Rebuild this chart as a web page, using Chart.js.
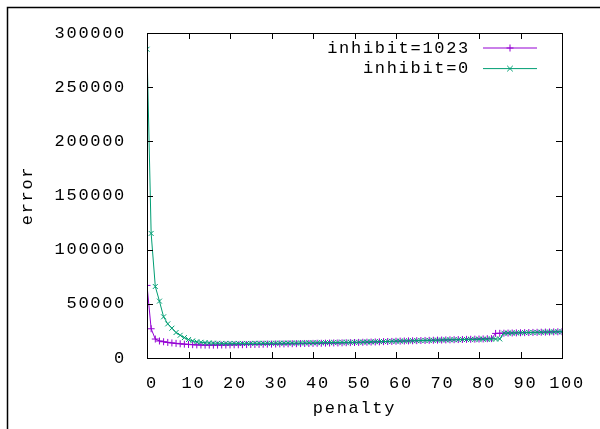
<!DOCTYPE html>
<html>
<head>
<meta charset="utf-8">
<script src="https://cdn.jsdelivr.net/npm/chart.js@4"></script>
<style>
  html, body { margin: 0; padding: 0; background: #fff; }
  canvas { display: block; }
</style>
</head>
<body>
<canvas id="err-chart" width="600" height="429"></canvas>
<script>
// penalty values on the x axis
var penalty = [0, 1, 2, 3, 4, 5, 6, 7, 8, 9, 10, 11, 12, 13, 14, 15, 16, 17, 18, 19,
  20, 21, 22, 23, 24, 25, 26, 27, 28, 29, 30, 31, 32, 33, 34, 35, 36, 37, 38, 39,
  40, 41, 42, 43, 44, 45, 46, 47, 48, 49, 50, 51, 52, 53, 54, 55, 56, 57, 58, 59,
  60, 61, 62, 63, 64, 65, 66, 67, 68, 69, 70, 71, 72, 73, 74, 75, 76, 77, 78, 79,
  80, 81, 82, 83, 84, 85, 86, 87, 88, 89, 90, 91, 92, 93, 94, 95, 96, 97, 98, 99, 100];

// error, inhibit=1023
var errInhibit1023 = [67000, 27000, 17500, 15700, 15000, 14400, 13900, 13500, 13100, 12800,
  12500, 12300, 12100, 12000, 11900, 11900, 11900, 11900, 12000, 12000,
  12100, 12200, 12200, 12300, 12400, 12500, 12500, 12600, 12700, 12800,
  12800, 12900, 13000, 13000, 13100, 13200, 13200, 13300, 13400, 13400,
  13500, 13600, 13600, 13700, 13800, 13900, 13900, 14000, 14100, 14200,
  14300, 14400, 14500, 14600, 14700, 14800, 14900, 15100, 15200, 15300,
  15500, 15600, 15700, 15800, 15900, 16000, 16100, 16200, 16300, 16400,
  16500, 16600, 16700, 16800, 16900, 17000, 17100, 17200, 17300, 17400,
  17500, 17600, 17800, 17900, 22700, 22800, 22900, 23000, 23100, 23200,
  23300, 23400, 23500, 23600, 23700, 23800, 23900, 24000, 24100, 24200, 24300];

// error, inhibit=0
var errInhibit0 = [285000, 115000, 66000, 52500, 38000, 31500, 27500, 23500, 21000, 18800,
  17000, 15800, 15000, 14500, 14100, 13900, 13700, 13600, 13500, 13500,
  13500, 13500, 13500, 13500, 13500, 13500, 13600, 13600, 13600, 13600,
  13600, 13700, 13700, 13700, 13800, 13800, 13800, 13900, 13900, 14000,
  14000, 14100, 14100, 14200, 14200, 14300, 14300, 14400, 14400, 14500,
  14500, 14600, 14700, 14800, 14900, 15000, 15100, 15200, 15300, 15400,
  15500, 15600, 15700, 15800, 15900, 16000, 16100, 16200, 16300, 16400,
  16500, 16600, 16700, 16800, 16900, 16900, 17000, 17100, 17200, 17200,
  17300, 17400, 17400, 17500, 17500, 17600, 22900, 23000, 23100, 23200,
  23300, 23400, 23500, 23600, 23700, 23800, 23900, 24000, 24100, 24200, 24300];

var seriesLabels = ["inhibit=1023", "inhibit=0"];
var seriesColors = ["#9400d3", "#009e73"];
var seriesPoints = ["cross", "crossRot"];

var xTicks = [0, 10, 20, 30, 40, 50, 60, 70, 80, 90, 100];
var yTicks = [0, 50000, 100000, 150000, 200000, 250000, 300000];

var FONT = { family: "'Liberation Mono', 'DejaVu Sans Mono', monospace", size: 17 };
var SPACING = "1.7px";

function toPoints(ys) {
  return penalty.map(function(x, i) { return { x: x, y: ys[i] }; });
}

// gnuplot look: wider letter spacing, inward ticks on all four sides, own legend
var gnuplotLook = {
  id: "gnuplotLook",
  beforeUpdate: function(chart) { chart.ctx.letterSpacing = SPACING; },
  beforeDraw: function(chart) {
    var ctx = chart.ctx;
    ctx.letterSpacing = SPACING;
    ctx.save();
    ctx.strokeStyle = "#000";
    ctx.lineWidth = 1.5;
    ctx.beginPath();
    ctx.moveTo(7.5, chart.height);
    ctx.lineTo(7.5, 7.5);
    ctx.lineTo(chart.width, 7.5);
    ctx.stroke();
    ctx.restore();
  },
  afterDraw: function(chart) {
    var ctx = chart.ctx, a = chart.chartArea;
    var xs = chart.scales.x, ys = chart.scales.y;
    var len = 6;
    ctx.save();
    ctx.strokeStyle = "#000";
    ctx.lineWidth = 1;
    ctx.beginPath();
    xTicks.forEach(function(v) {
      var px = Math.round(xs.getPixelForValue(v)) + 0.5;
      ctx.moveTo(px, a.bottom); ctx.lineTo(px, a.bottom - len);
      ctx.moveTo(px, a.top); ctx.lineTo(px, a.top + len);
    });
    yTicks.forEach(function(v) {
      var py = Math.round(ys.getPixelForValue(v)) + 0.5;
      ctx.moveTo(a.left, py); ctx.lineTo(a.left + len, py);
      ctx.moveTo(a.right, py); ctx.lineTo(a.right - len, py);
    });
    ctx.stroke();
    ctx.strokeRect(Math.round(a.left) + 0.5, Math.round(a.top) + 0.5,
      Math.round(a.right - a.left), Math.round(a.bottom - a.top));

    // legend, top right inside the plot
    ctx.font = FONT.size + "px " + FONT.family;
    ctx.textAlign = "right";
    ctx.textBaseline = "middle";
    var textRight = a.right - 92;
    var lineL = a.right - 79, lineR = a.right - 25;
    seriesLabels.forEach(function(label, i) {
      var y = a.top + 15 + i * 20.6;
      ctx.fillStyle = "#000";
      ctx.fillText(label, textRight, y);
      ctx.strokeStyle = seriesColors[i];
      ctx.beginPath();
      ctx.moveTo(lineL, y); ctx.lineTo(lineR, y);
      var cx = (lineL + lineR) / 2, r = 3.5;
      if (seriesPoints[i] === "cross") {
        ctx.moveTo(cx - r, y); ctx.lineTo(cx + r, y);
        ctx.moveTo(cx, y - r); ctx.lineTo(cx, y + r);
      } else {
        var d = r * 0.8;
        ctx.moveTo(cx - d, y - d); ctx.lineTo(cx + d, y + d);
        ctx.moveTo(cx - d, y + d); ctx.lineTo(cx + d, y - d);
      }
      ctx.stroke();
    });
    ctx.restore();
  }
};

var ctx = document.getElementById("err-chart").getContext("2d");
var errChart = new Chart(ctx, {
  type: "line",
  data: {
    datasets: [{
        label: seriesLabels[0],
        data: toPoints(errInhibit1023),
        borderColor: seriesColors[0],
        backgroundColor: seriesColors[0],
        pointStyle: seriesPoints[0],
        order: 2
      },
      {
        label: seriesLabels[1],
        data: toPoints(errInhibit0),
        borderColor: seriesColors[1],
        backgroundColor: seriesColors[1],
        pointStyle: seriesPoints[1],
        order: 1
      }
    ]
  },
  options: {
    responsive: false,
    animation: false,
    devicePixelRatio: 1,
    layout: { padding: { left: 0, top: 33, right: 38, bottom: 0 } },
    elements: {
      line: { borderWidth: 1, tension: 0, fill: false },
      point: { radius: 3.5, borderWidth: 1, hoverRadius: 3.5 }
    },
    plugins: {
      legend: { display: false },
      tooltip: { enabled: false }
    },
    scales: {
      x: {
        type: "linear",
        min: 0,
        max: 100,
        afterFit: function(s) { s.height = 71; },
        afterBuildTicks: function(s) { s.ticks = xTicks.map(function(v) { return { value: v }; }); },
        grid: { display: false },
        border: { display: false },
        ticks: { color: "#000", font: FONT, padding: 7, labelOffset: 5, maxRotation: 0,
          callback: function(v) { return String(v); } },
        title: { display: true, text: "penalty", color: "#000", font: FONT, padding: { bottom: 10 } }
      },
      y: {
        min: 0,
        max: 300000,
        afterFit: function(s) { s.width = 147; },
        afterBuildTicks: function(s) { s.ticks = yTicks.map(function(v) { return { value: v }; }); },
        grid: { display: false },
        border: { display: false },
        ticks: { color: "#000", font: FONT, padding: 13,
          callback: function(v) { return String(v); } },
        title: { display: true, text: "error", color: "#000", font: FONT, padding: { top: 17 } }
      }
    }
  },
  plugins: [gnuplotLook]
});
</script>
</body>
</html>
